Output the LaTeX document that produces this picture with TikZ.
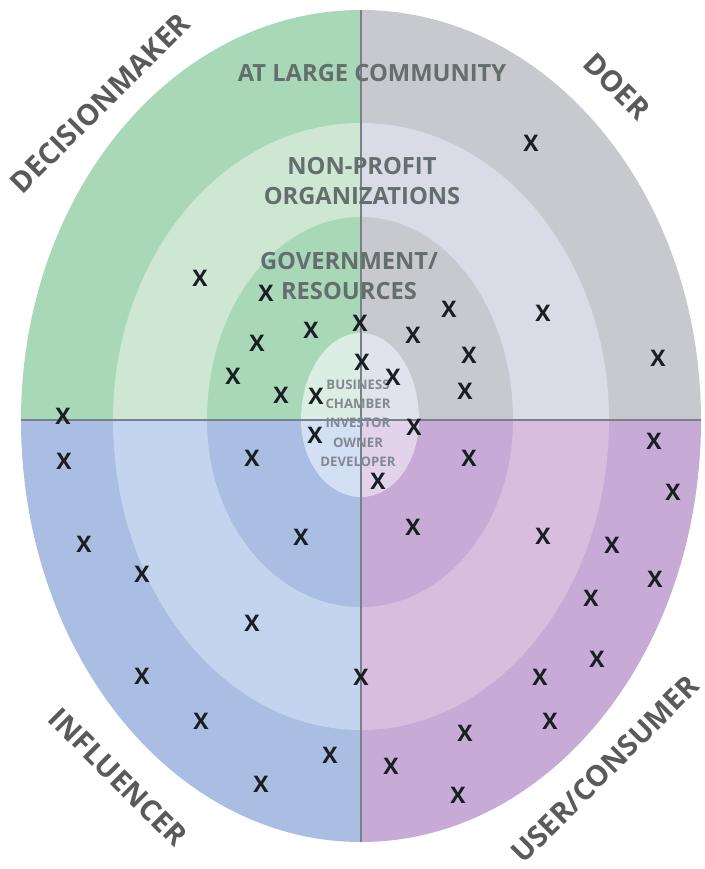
\documentclass[tikz,border=0pt]{standalone}
\usepackage{fontspec}
\setmainfont{Open Sans}
\usepackage{tikz}
\usetikzlibrary{positioning}
\definecolor{stGreen}{RGB}{169,216,184}
\definecolor{stGreenLt}{RGB}{205,231,210}
\definecolor{stGreenIn}{RGB}{220,238,227}
\definecolor{stGray}{RGB}{200,201,206}
\definecolor{stGrayLt}{RGB}{217,219,231}
\definecolor{stGrayIn}{RGB}{225,226,236}
\definecolor{stBlue}{RGB}{170,190,227}
\definecolor{stBlueLt}{RGB}{194,212,238}
\definecolor{stBlueIn}{RGB}{211,223,242}
\definecolor{stPurple}{RGB}{199,170,214}
\definecolor{stPurpleLt}{RGB}{216,189,222}
\definecolor{stPurpleIn}{RGB}{226,211,234}
\definecolor{stLine}{RGB}{120,128,140}
\definecolor{stText}{RGB}{100,110,108}
\definecolor{stRole}{RGB}{90,90,90}
\definecolor{stInner}{RGB}{130,136,146}
\definecolor{stMark}{RGB}{25,30,35}

\tikzset{
  ringlabel/.style={text=stText, font=\fontsize{13.5}{17.6}\selectfont\bfseries, align=center, inner sep=0pt},
  rolelabel/.style={text=stRole, font=\fontsize{16.5}{19}\selectfont\bfseries, inner sep=0pt},
  innerlabel/.style={text=stInner, font=\fontsize{7.5}{11}\selectfont\bfseries, align=center, inner sep=0pt},
  xmark/.style={text=stMark, font=\fontsize{13}{15}\selectfont\bfseries, inner sep=0pt}
}

\begin{document}
\begin{tikzpicture}[x=0.02cm, y=-0.02cm]
  \useasboundingbox (0,0) rectangle (704,869);

  % Decisionmaker (top left)
  \begin{scope}
    \clip (0,0) rectangle (361,420);
    \fill[stGreen] (361,420) ellipse [x radius=340, y radius=410];
    \fill[stGreenLt] (361,420) ellipse [x radius=248, y radius=297];
    \fill[stGreen] (361,420) ellipse [x radius=154, y radius=203];
    \fill[stGreenIn] (361,420) ellipse [x radius=60, y radius=87];
  \end{scope}

  % Doer (top right)
  \begin{scope}
    \clip (361,0) rectangle (704,420);
    \fill[stGray] (361,420) ellipse [x radius=340, y radius=410];
    \fill[stGrayLt] (361,420) ellipse [x radius=248, y radius=297];
    \fill[stGray] (361,420) ellipse [x radius=152, y radius=203];
    \fill[stGrayIn] (361,420) ellipse [x radius=58, y radius=87];
  \end{scope}

  % Influencer (bottom left)
  \begin{scope}
    \clip (0,420) rectangle (361,869);
    \fill[stBlue] (361,420) ellipse [x radius=340, y radius=422];
    \fill[stBlueLt] (361,420) ellipse [x radius=248, y radius=310];
    \fill[stBlue] (361,420) ellipse [x radius=154, y radius=187];
    \fill[stBlueIn] (361,420) ellipse [x radius=60, y radius=77];
  \end{scope}

  % User/consumer (bottom right)
  \begin{scope}
    \clip (361,420) rectangle (704,869);
    \fill[stPurple] (361,420) ellipse [x radius=340, y radius=422];
    \fill[stPurpleLt] (361,420) ellipse [x radius=248, y radius=310];
    \fill[stPurple] (361,420) ellipse [x radius=152, y radius=187];
    \fill[stPurpleIn] (361,420) ellipse [x radius=58, y radius=77];
  \end{scope}

  % Axes
  \draw[stLine, line width=0.9pt] (361,10) -- (361,842);
  \draw[stLine, line width=0.9pt] (21,420) -- (701,420);

  % Rings
  \node[ringlabel] (community) at (372,73) {AT LARGE COMMUNITY};
  \node[ringlabel] (nonprofit) at (362,181) {NON-PROFIT\\ORGANIZATIONS};
  \node[ringlabel] (government) at (349,276) {GOVERNMENT/\\RESOURCES};
  \node[innerlabel] (business) at (358,423) {BUSINESS\\CHAMBER\\INVESTOR\\OWNER\\DEVELOPER};

  % Roles
  \node[rolelabel, rotate=45] (decision) at (100,103) {DECISIONMAKER};
  \node[rolelabel, rotate=-45] (doer) at (617,86) {DOER};
  \node[rolelabel, rotate=-45] (influencer) at (118,777) {INFLUENCER};
  \node[rolelabel, rotate=45] (user) at (605,769) {USER/CONSUMER};

  % Stakeholders
  \foreach \px/\py [count=\n] in {200/278, 266/293, 311/330, 257/343, 233/376,
      281/395, 316/396, 63/416, 360/323, 362/362, 531/143, 449/309, 543/313,
      413/335, 469/355, 658/358, 393/377, 465/391, 414/427, 315/435, 64/461,
      252/458, 469/458, 654/441, 378/481, 673/492, 413/527, 301/537, 543/536,
      84/544, 612/545, 142/574, 655/579, 591/598, 252/623, 597/659, 142/676,
      361/677, 540/677, 550/721, 201/721, 465/733, 330/755, 391/766, 261/784,
      458/795}
    \node[xmark] (mark\n) at (\px,\py) {X};
\end{tikzpicture}
\end{document}
